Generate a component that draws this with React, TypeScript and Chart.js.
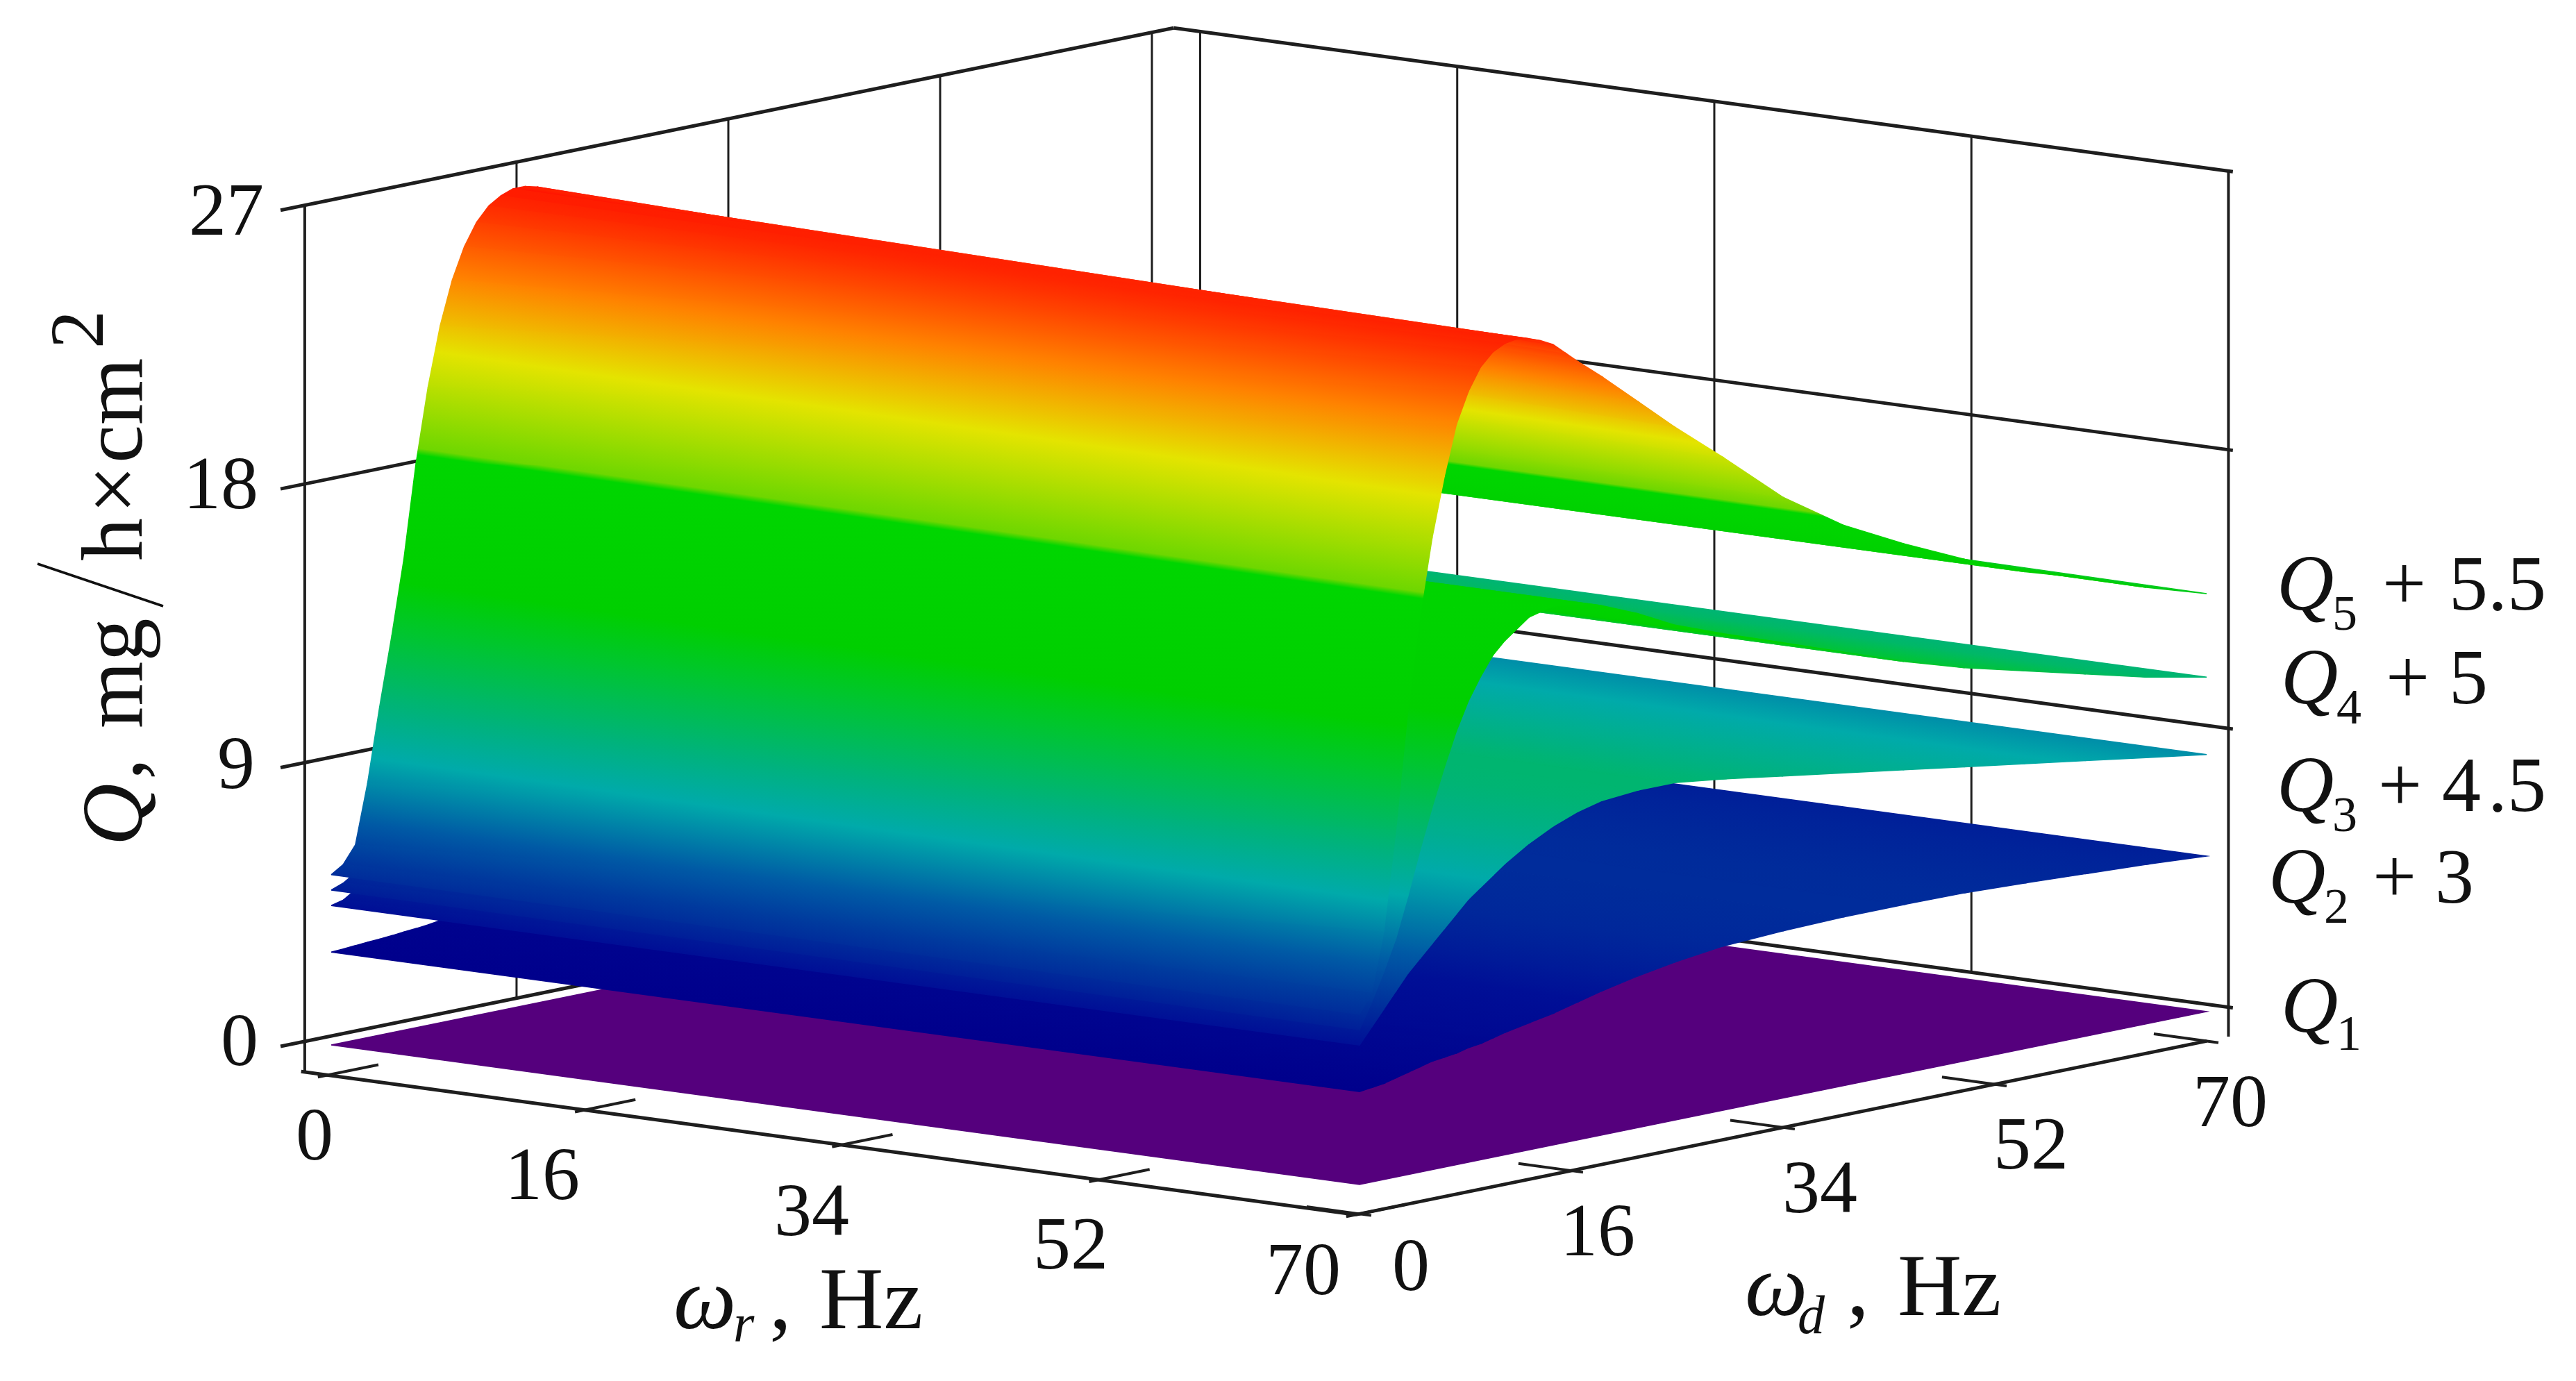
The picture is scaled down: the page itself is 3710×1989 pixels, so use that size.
import { useEffect, useRef } from 'react'
import { Chart, registerables } from 'chart.js'

Chart.register(...registerables)

const W = 3710
const H = 1989
const FONT = '"Liberation Serif"'

// ω_d samples shared by the lower surfaces
const dSteps = [0, 1, 2, 3, 4, 5, 6, 7, 8, 9, 10, 11, 12, 14, 16, 18, 20, 23, 26, 30, 35, 40, 45, 50, 55, 60, 65, 70]

// height read along the ω_r = 0 edge and along the ω_r = 70 edge
const q2AtR0 = [3, 3.02, 3.05, 3.08, 3.1, 3.13, 3.17, 3.2, 3.24, 3.3, 3.4, 3.5, 3.6, 3.85, 4.1, 4.35, 4.6, 4.9, 5.1, 5.3, 5.4, 5.45, 5.45, 5.43, 5.35, 5.25, 5.15, 5.02]
const q2AtR70 = [3, 3.05, 3.1, 3.2, 3.3, 3.4, 3.5, 3.55, 3.6, 3.7, 3.75, 3.85, 3.95, 4.1, 4.25, 4.45, 4.65, 4.9, 5.1, 5.3, 5.4, 5.45, 5.45, 5.43, 5.35, 5.25, 5.15, 5.02]
const q3AtR0 = [4.5, 4.6, 4.85, 5.2, 5.6, 6, 6.5, 7, 7.5, 8, 8.4, 8.8, 9.2, 9.8, 10.3, 10.6, 10.8, 10.9, 10.9, 10.7, 10.4, 10.1, 9.8, 9.5, 9.2, 8.9, 8.6, 8.3]
const q3AtR70 = [4.5, 5, 5.5, 6, 6.5, 6.9, 7.3, 7.7, 8.1, 8.5, 8.8, 9.1, 9.4, 9.9, 10.3, 10.6, 10.8, 10.9, 10.9, 10.7, 10.4, 10.1, 9.8, 9.5, 9.2, 8.9, 8.6, 8.3]
const q4AtR0 = [5, 5.15, 5.4, 6.1, 7.4, 8.9, 10.4, 11.7, 13, 14, 14.9, 15.6, 16.1, 17, 17.4, 17.4, 17.1, 16.6, 16, 15.4, 14.7, 14, 13.3, 12.7, 12.2, 11.7, 11.2, 10.8]
const q4AtR70 = [5, 5.8, 6.7, 7.7, 9, 10.4, 11.7, 12.9, 14, 14.9, 15.6, 16.2, 16.6, 17.2, 17.4, 17.3, 17.1, 16.6, 16, 15.4, 14.7, 14, 13.3, 12.7, 12.2, 11.7, 11.2, 10.8]

// Q5 has the visible ridge, so it is read on a finer ω_d list
const q5Steps = [0, 1, 2, 3, 4, 5, 6, 7, 8, 9, 10, 11, 12, 13, 14, 15, 16, 17, 18, 20, 23, 26, 30, 35, 40, 45, 50, 55, 60, 65, 70]
const q5AtR0 = [5.5, 5.75, 6.3, 8.2, 10.6, 12.8, 15.2, 18.2, 20.6, 22.5, 23.9, 24.9, 25.6, 26.05, 26.3, 26.45, 26.45, 26.35, 26.2, 25.6, 24.5, 23.2, 21.6, 19.8, 18.3, 17.2, 16.2, 15.4, 14.8, 14.2, 13.7]
const q5AtR70 = [5.5, 6.1, 8, 11.2, 15, 18, 20.4, 22.3, 23.9, 24.9, 25.6, 26, 26.2, 26.27, 26.2, 26.05, 25.85, 25.5, 25.15, 24.5, 23.45, 22.4, 21.1, 19.4, 18.1, 17.1, 16.2, 15.4, 14.8, 14.1, 13.5]

// Q1 is the flat plane
const q1Steps = [0, 70]
const q1Heights = [0, 0]

// the box grid sits at these axis values, the printed labels are rounded differently
const gridSteps = [0, 17.5, 35, 52.5, 70]
const zSteps = [0, 9, 18, 27]
const rTickLabels = ['0', '16', '34', '52', '70']
const dTickLabels = ['0', '16', '34', '52', '70']
const zTickLabels = ['0', '9', '18', '27']

// rainbow by height: [z, r, g, b]
const colorZ = [0, 1.5, 3, 4.5, 5.5, 7, 9, 10.5, 13, 14.5, 18.5, 18.7, 21.7, 24, 26, 27]
const colorR = [85, 60, 0, 0, 0, 0, 0, 0, 0, 0, 0, 110, 228, 255, 255, 255]
const colorG = [0, 0, 0, 15, 45, 90, 170, 178, 198, 207, 214, 215, 228, 130, 45, 0]
const colorB = [125, 130, 140, 150, 155, 165, 170, 125, 45, 0, 0, 0, 0, 0, 0, 0]

// box limits in axis units
const BOX_R0 = -1.8
const BOX_R1 = 70
const BOX_D0 = -0.3
const BOX_D1 = 71.8
const BOX_Z0 = -0.95

// the picture is an orthographic view, so one affine map is enough
function project(r: number, d: number, z: number) {
  return {
    x: 477 + 21.157 * r + 17.43 * d,
    y: 1505 + 2.871 * r - 3.557 * d - 44.6 * z,
  }
}

function colorAt(z: number) {
  let i = 0
  while (i < colorZ.length - 2 && z > colorZ[i + 1]) i++
  const t = Math.max(0, Math.min(1, (z - colorZ[i]) / (colorZ[i + 1] - colorZ[i])))
  const mix = (a: number[]) => Math.round(a[i] + (a[i + 1] - a[i]) * t)
  return `rgb(${mix(colorR)},${mix(colorG)},${mix(colorB)})`
}

function lineSet(points: { x: number; y: number }[], width: number, color = '#1e1e1e') {
  return {
    data: points,
    showLine: true,
    borderColor: color,
    borderWidth: width,
    pointRadius: 0,
    fill: false,
    tension: 0,
  }
}

// one band of a surface between two ω_d samples, coloured through a gradient that follows height
function stripSet(d0: number, d1: number, za: number, zb: number, zc: number, ze: number) {
  const a = project(0, d0, za)
  const b = project(70, d0, zb)
  const c = project(70, d1, zc)
  const e = project(0, d1, ze)

  const fillFor = (ctx: any) => {
    const { chart } = ctx
    const sx = chart.scales.x
    const sy = chart.scales.y
    const zMin = Math.min(za, zb, zc, ze)
    const zMax = Math.max(za, zb, zc, ze)
    const flat = colorAt((zMin + zMax) / 2)
    const px = (p: { x: number; y: number }) => ({ x: sx.getPixelForValue(p.x), y: sy.getPixelForValue(p.y) })
    const [pa, pb, pc, pe] = [a, b, c, e].map(px)

    const ex = (pb.x - pa.x + pc.x - pe.x) / 2
    const ey = (pb.y - pa.y + pc.y - pe.y) / 2
    const ez = (zb - za + zc - ze) / 2
    const fx = (pe.x - pa.x + pc.x - pb.x) / 2
    const fy = (pe.y - pa.y + pc.y - pb.y) / 2
    const fz = (ze - za + zc - zb) / 2
    const det = ex * fy - ey * fx
    if (!Number.isFinite(det) || Math.abs(det) < 1e-6 || zMax - zMin < 1e-6) return flat

    const gx = (ez * fy - fz * ey) / det
    const gy = (ex * fz - fx * ez) / det
    const g2 = gx * gx + gy * gy
    if (g2 < 1e-12) return flat
    const cx = (pa.x + pb.x + pc.x + pe.x) / 4
    const cy = (pa.y + pb.y + pc.y + pe.y) / 4
    const cz = (za + zb + zc + ze) / 4
    const lo = zMin - 0.5
    const hi = zMax + 0.5
    const grad = chart.ctx.createLinearGradient(
      cx + (gx * (lo - cz)) / g2,
      cy + (gy * (lo - cz)) / g2,
      cx + (gx * (hi - cz)) / g2,
      cy + (gy * (hi - cz)) / g2
    )
    grad.addColorStop(0, colorAt(lo))
    colorZ.forEach((z) => {
      if (z > lo && z < hi) grad.addColorStop((z - lo) / (hi - lo), colorAt(z))
    })
    grad.addColorStop(1, colorAt(hi))
    return grad
  }

  return {
    data: [a, b, c, e, a],
    showLine: true,
    fill: 'shape',
    backgroundColor: fillFor,
    borderColor: fillFor,
    borderWidth: 1.5,
    pointRadius: 0,
    tension: 0,
  }
}

function surfaceSets(steps: number[], atR0: number[], atR70: number[]) {
  const sets = []
  for (let i = steps.length - 2; i >= 0; i--) {
    sets.push(stripSet(steps[i], steps[i + 1], atR0[i], atR70[i], atR70[i + 1], atR0[i + 1]))
  }
  return sets
}

function boxSets() {
  const sets = []
  const topZ = zSteps[zSteps.length - 1]
  // left wall
  gridSteps.forEach((d, i) => {
    sets.push(lineSet([project(BOX_R0, d, i === 0 ? BOX_Z0 : 0), project(BOX_R0, d, topZ)], i === 0 ? 4 : 3))
  })
  // right wall
  gridSteps.forEach((r, i) => {
    sets.push(lineSet([project(r, BOX_D1, i === 4 ? BOX_Z0 : 0), project(r, BOX_D1, topZ)], i === 4 ? 4 : 3))
  })
  zSteps.forEach((z) => {
    sets.push(lineSet([project(BOX_R0, -2, z), project(BOX_R0, BOX_D1, z)], 5))
    sets.push(lineSet([project(BOX_R0, BOX_D1, z), project(BOX_R1 + 0.3, BOX_D1, z)], 5))
  })
  return sets
}

function floorSets() {
  const sets = [
    lineSet([project(BOX_R0, BOX_D0, BOX_Z0), project(BOX_R1, BOX_D0, BOX_Z0)], 5),
    lineSet([project(BOX_R1, BOX_D0, BOX_Z0), project(BOX_R1, BOX_D1 - 1.8, BOX_Z0)], 5),
  ]
  gridSteps.forEach((t) => {
    sets.push(lineSet([project(t, BOX_D0 - 0.8, BOX_Z0), project(t, BOX_D0 + 4.2, BOX_Z0)], 4))
    sets.push(lineSet([project(BOX_R1 + 0.8, t, BOX_Z0), project(BOX_R1 - 3.6, t, BOX_Z0)], 4))
  })
  return sets
}

type Run = [string, number, number, number, boolean?]

const rTickSpots = [[453, 1633], [781, 1690], [1169, 1742], [1542, 1790], [1877, 1827]]
const dTickSpots = [[2032, 1821], [2301, 1771], [2621, 1709], [2925, 1646], [3212, 1585]]
const zTickSpots = [[372, 1497], [367, 1098], [372, 695], [380, 301]]

const titleRuns: Run[] = [
  ['ω', 970, 1913, 128, true],
  ['r', 1056, 1932, 78, true],
  [',', 1108, 1913, 128],
  ['Hz', 1180, 1913, 128],
  ['ω', 2513, 1894, 128, true],
  ['d', 2589, 1920, 78, true],
  [',', 2660, 1894, 128],
  ['Hz', 2733, 1894, 128],
  ['Q', 3279, 878, 114, true],
  ['5', 3359, 907, 72],
  ['+', 3431, 878, 112],
  ['5', 3527, 878, 112],
  ['.', 3583, 878, 112],
  ['5', 3611, 878, 112],
  ['Q', 3285, 1013, 114, true],
  ['4', 3365, 1042, 72],
  ['+', 3436, 1013, 112],
  ['5', 3527, 1013, 112],
  ['Q', 3279, 1168, 114, true],
  ['3', 3359, 1197, 72],
  ['+', 3425, 1168, 112],
  ['4', 3517, 1168, 112],
  ['.', 3583, 1168, 112],
  ['5', 3611, 1168, 112],
  ['Q', 3267, 1300, 114, true],
  ['2', 3347, 1329, 72],
  ['+', 3417, 1300, 112],
  ['3', 3507, 1300, 112],
  ['Q', 3285, 1486, 114, true],
  ['1', 3365, 1512, 72],
]

// y title, measured along the rotated axis from the foot of the Q
const yTitleRuns: Run[] = [
  ['Q', 0, 0, 124, true],
  [',', 95, 0, 124],
  ['mg', 169, 0, 124],
  ['h', 410, 0, 124],
  ['×', 478, 0, 124],
  ['cm', 551, 0, 124],
  ['2', 716, -56, 110],
]

function drawRun(ctx: CanvasRenderingContext2D, run: Run) {
  const [text, x, y, size, italic] = run
  ctx.font = `${italic ? 'italic ' : ''}${size}px ${FONT}`
  ctx.fillText(text, x, y)
}

const textPlugin = {
  id: 'boxText',
  afterDatasetsDraw(chart: Chart) {
    const { ctx } = chart
    ctx.save()
    ctx.fillStyle = '#111'
    ctx.textAlign = 'left'
    ctx.textBaseline = 'alphabetic'
    titleRuns.forEach((run) => drawRun(ctx, run))

    ctx.save()
    ctx.translate(204, 1218)
    ctx.rotate(-Math.PI / 2)
    yTitleRuns.forEach((run) => drawRun(ctx, run))
    ctx.restore()

    ctx.strokeStyle = '#111'
    ctx.lineWidth = 3.5
    ctx.beginPath()
    ctx.moveTo(54, 812)
    ctx.lineTo(235, 873)
    ctx.stroke()

    ctx.font = `108px ${FONT}`
    ctx.textAlign = 'center'
    rTickLabels.forEach((t, i) => ctx.fillText(t, rTickSpots[i][0], rTickSpots[i][1] + 37))
    dTickLabels.forEach((t, i) => ctx.fillText(t, dTickSpots[i][0], dTickSpots[i][1] + 37))
    ctx.textAlign = 'right'
    zTickLabels.forEach((t, i) => ctx.fillText(t, zTickSpots[i][0], zTickSpots[i][1] + 37))
    ctx.restore()
  },
}

export default function App() {
  const canvasRef = useRef<HTMLCanvasElement>(null)

  useEffect(() => {
    if (!canvasRef.current) return
    // first entry in this list is painted first, chart.js paints index 0 last
    const layers = [
      ...boxSets(),
      ...floorSets(),
      ...surfaceSets(q1Steps, q1Heights, q1Heights),
      ...surfaceSets(dSteps, q2AtR0, q2AtR70),
      ...surfaceSets(dSteps, q3AtR0, q3AtR70),
      ...surfaceSets(dSteps, q4AtR0, q4AtR70),
      ...surfaceSets(q5Steps, q5AtR0, q5AtR70),
    ]
    const chart = new Chart(canvasRef.current, {
      type: 'scatter',
      data: { datasets: layers.slice().reverse() as any },
      options: {
        animation: false,
        responsive: false,
        devicePixelRatio: 1,
        events: [],
        layout: { padding: 0 },
        plugins: { legend: { display: false }, tooltip: { enabled: false } },
        scales: {
          x: { type: 'linear', min: 0, max: W, display: false },
          y: { type: 'linear', min: 0, max: H, reverse: true, display: false },
        },
      },
      plugins: [textPlugin],
    })
    return () => chart.destroy()
  }, [])

  return (
    <div style={{ position: 'fixed', left: 0, top: 0, width: W, height: H, background: '#fff' }}>
      <canvas ref={canvasRef} width={W} height={H} style={{ display: 'block' }} />
    </div>
  )
}
